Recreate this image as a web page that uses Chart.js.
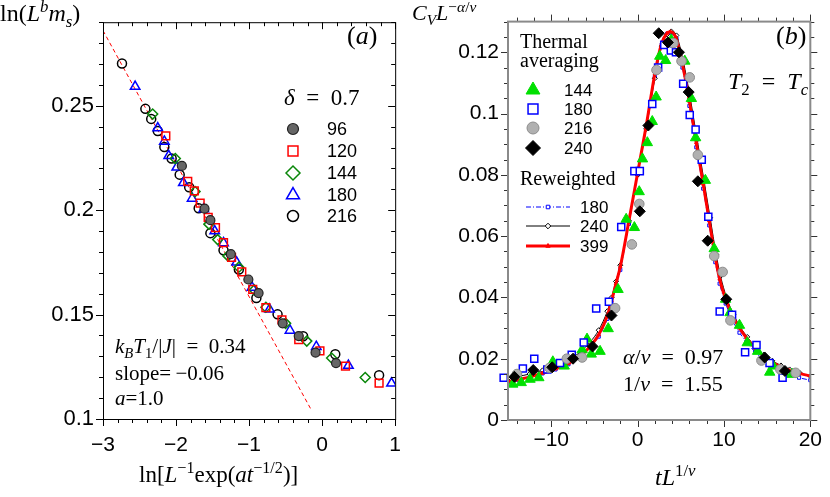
<!DOCTYPE html>
<html>
<head>
<meta charset="utf-8">
<script src="https://cdn.jsdelivr.net/npm/chart.js@4.4.1/dist/chart.umd.min.js"></script>
<style>
body { margin: 0; background: #fff; width: 830px; height: 497px; position: relative; overflow: hidden; }
.pane { position: absolute; top: 0; width: 415px; height: 497px; }
.t { position: absolute; font-family: "Liberation Serif", serif; color: #000; white-space: nowrap; line-height: 1; }
.t i { font-style: italic; }
.t sup, .t sub { font-size: 70%; line-height: 0; }
</style>
</head>
<body>
<div class="pane" style="left:0"><canvas id="chartA" width="415" height="497"></canvas></div>
<div class="pane" style="left:415px"><canvas id="chartB" width="415" height="497"></canvas></div>

<!-- panel (a) text -->
<div class="t" style="left:0;top:1px;font-size:24px">ln(<i>L</i><sup><i>b</i></sup><i>m</i><sub><i>s</i></sub>)</div>
<div class="t" style="left:347px;top:23px;font-size:26px">(<i>a</i>)</div>
<div class="t" style="left:284px;top:86px;font-size:23px"><i>δ</i>&ensp;=&ensp;0.7</div>
<div class="t" style="left:115px;top:336px;font-size:21px"><i>k</i><sub><i>B</i></sub><i>T</i><sub>1</sub>/|<i>J</i>|&ensp;=&ensp;0.34</div>
<div class="t" style="left:115px;top:363px;font-size:21px">slope=&thinsp;−0.06</div>
<div class="t" style="left:115px;top:388px;font-size:21px"><i>a</i>=1.0</div>
<div class="t" style="left:139px;top:463px;font-size:23px">ln[<i>L</i><sup>−1</sup>exp(<i>at</i><sup>−1/2</sup>)]</div>

<!-- panel (b) text -->
<div class="t" style="left:412px;top:2px;font-size:22px"><i>C</i><sub><i>V</i></sub><i>L</i><sup>−<i>α</i>/<i>ν</i></sup></div>
<div class="t" style="left:776px;top:23px;font-size:26px">(<i>b</i>)</div>
<div class="t" style="left:728px;top:69px;font-size:24px"><i>T</i><sub>2</sub>&ensp;=&ensp;<i>T</i><sub><i>c</i></sub></div>
<div class="t" style="left:623px;top:346px;font-size:22px"><i>α</i>/<i>ν</i>&ensp;=&ensp;0.97</div>
<div class="t" style="left:623px;top:373px;font-size:22px">1/<i>ν</i>&ensp;=&ensp;1.55</div>
<div class="t" style="left:655px;top:465px;font-size:24px"><i>tL</i><sup>1/<i>ν</i></sup></div>

<script>
// ---- panel (a): delta = 0.7, kB T1/|J| = 0.34 ----
const ticksAx = [-3, -2, -1, 0, 1];
const ticksAy = [0.1, 0.15, 0.2, 0.25];

const xA96 = [-1.92, -1.61, -1.53, -1.25, -1.01, -0.87, -0.54, -0.32, -0.09, 0.19];
const yA96 = [0.2212, 0.2007, 0.1952, 0.1789, 0.1668, 0.1603, 0.1458, 0.1397, 0.1318, 0.1268];

const xA120 = [-2.14, -1.84, -1.75, -1.67, -1.56, -1.46, -1.35, -1.24, -1.10, -0.95, -0.77, -0.55, -0.32, -0.03, 0.32, 0.78];
const yA120 = [0.2356, 0.2138, 0.2092, 0.2034, 0.1965, 0.1916, 0.1845, 0.1774, 0.1704, 0.1621, 0.1533, 0.1475, 0.1380, 0.1326, 0.1253, 0.1172];

const xA144 = [-2.32, -2.01, -1.74, -1.55, -1.43, -1.29, -1.14, -0.93, -0.77, -0.50, -0.21, 0.13, 0.59];
const yA144 = [0.2460, 0.2247, 0.2089, 0.1933, 0.1859, 0.1781, 0.1727, 0.1618, 0.1535, 0.1458, 0.1373, 0.1292, 0.1199];

const xA180 = [-2.56, -2.25, -2.16, -2.10, -1.99, -1.90, -1.78, -1.62, -1.47, -1.35, -1.17, -0.96, -0.72, -0.44, -0.08, 0.36, 0.95];
const yA180 = [0.2592, 0.2393, 0.2329, 0.2260, 0.2205, 0.2131, 0.2056, 0.2005, 0.1900, 0.1843, 0.1750, 0.1630, 0.1525, 0.1424, 0.1346, 0.1256, 0.1171];

const xA216 = [-2.74, -2.42, -2.34, -2.25, -2.16, -2.06, -1.95, -1.82, -1.69, -1.53, -1.35, -1.14, -0.90, -0.61, -0.26, 0.18, 0.78];
const yA216 = [0.2702, 0.2485, 0.2437, 0.2379, 0.2302, 0.2247, 0.2170, 0.2110, 0.2009, 0.1890, 0.1808, 0.1716, 0.1579, 0.1501, 0.1396, 0.1310, 0.1210];

// dashed fit, slope -0.06
const xFit = [-3, -0.16];
const yFit = [0.2860, 0.1051];

// ---- panel (b): T2 = Tc ----
const ticksBx = [-10, 0, 10, 20];
const ticksBy = [0, 0.02, 0.04, 0.06, 0.08, 0.1, 0.12];

// thermal averaging
const xB144 = [-14.45, -13.47, -12.45, -11.43, -9.81, -8.49, -6.42, -5.85, -5.36, -4.34, -3.4, -2.26, -1.32, -0.37, 0.19, 0.57, 1.13, 1.7, 2.15, 2.57, 3.25, 3.9, 5.47, 6.23, 6.72, 7.85, 8.87, 10.19, 10.7, 11.8, 12.7, 13.9, 15.3, 15.7, 17.0, 17.9];
const yB144 = [0.0117, 0.0122, 0.0133, 0.0138, 0.0190, 0.0176, 0.0229, 0.0264, 0.0215, 0.0224, 0.0298, 0.0426, 0.0655, 0.0628, 0.0745, 0.0852, 0.0905, 0.0974, 0.1054, 0.1187, 0.1173, 0.1240, 0.1171, 0.1049, 0.0921, 0.0782, 0.0559, 0.0394, 0.0350, 0.0309, 0.0252, 0.0224, 0.0156, 0.0176, 0.0150, 0.0149];

const xB180 = [-15.5, -13.28, -11.96, -10.45, -8.98, -7.62, -6.23, -4.79, -3.32, -1.89, -0.37, 0.26, 1.7, 2.38, 3.09, 3.85, 4.45, 5.28, 6.04, 6.72, 7.43, 8.19, 9.51, 10.94, 12.45, 13.77, 15.28, 16.79];
const yB180 = [0.0138, 0.0168, 0.0200, 0.0165, 0.0186, 0.0213, 0.0253, 0.0364, 0.0386, 0.0630, 0.0812, 0.0812, 0.1031, 0.1150, 0.1224, 0.1206, 0.1200, 0.1097, 0.0995, 0.0948, 0.0849, 0.0663, 0.0354, 0.0343, 0.0221, 0.0245, 0.0186, 0.0138];

const xB216 = [-13.96, -10.19, -8.19, -6.42, -2.6, -0.66, 0.2, 2.19, 4.15, 5.09, 6.04, 6.98, 8.87, 9.85, 10.75, 14.34, 16.53, 18.3];
const yB216 = [0.0150, 0.0170, 0.0200, 0.0204, 0.0365, 0.0573, 0.0705, 0.1142, 0.1230, 0.1171, 0.1118, 0.0865, 0.0535, 0.0483, 0.0325, 0.0194, 0.0165, 0.0154];

const xB240 = [-14.26, -12.08, -9.88, -7.47, -5.21, -3.02, 0.26, 1.25, 2.45, 3.51, 4.79, 5.92, 6.98, 8.12, 10.27, 14.72, 17.06];
const yB240 = [0.0141, 0.0163, 0.0172, 0.0200, 0.0240, 0.0341, 0.0681, 0.0961, 0.1262, 0.1232, 0.1200, 0.1070, 0.0779, 0.0585, 0.0394, 0.0204, 0.0160];

// reweighted curves
const xRw180 = [-15, -14, -12.5, -11, -9.5, -8, -6.5, -5.5, -4.5, -3.5, -3, -2.5, -2, -1, 0, 1, 2, 2.8, 3.4, 3.9, 4.5, 5.2, 6, 6.8, 7.6, 8.3, 9, 9.5, 10.2, 11, 11.8, 12.6, 13.6, 14.5, 15.5, 16.5, 17.5, 18.7, 20];
const yRw180 = [0.0124, 0.0131, 0.0140, 0.0152, 0.0165, 0.0182, 0.0208, 0.0236, 0.0272, 0.0330, 0.0378, 0.0432, 0.0490, 0.0640, 0.0800, 0.0955, 0.1120, 0.1225, 0.1260, 0.1262, 0.1245, 0.1150, 0.1025, 0.0890, 0.0755, 0.0635, 0.0515, 0.0445, 0.0380, 0.0325, 0.0285, 0.0255, 0.0222, 0.0198, 0.0178, 0.0163, 0.0150, 0.0138, 0.0130];

const xRw240 = [-15, -14, -12.5, -11, -9.5, -8, -6.5, -5.5, -4.5, -3.5, -3, -2.5, -2, -1, 0, 1, 2, 2.8, 3.4, 3.9, 4.5, 5.3, 6.1, 6.9, 7.7, 8.4, 9.1, 9.6, 10.3, 11.1, 11.9, 12.7, 13.7, 14.6, 15.6, 16.6, 17.6, 18.8, 20];
const yRw240 = [0.0135, 0.0141, 0.0150, 0.0162, 0.0177, 0.0196, 0.0225, 0.0254, 0.0293, 0.0355, 0.0400, 0.0452, 0.0505, 0.0650, 0.0800, 0.0950, 0.1115, 0.1220, 0.1258, 0.1268, 0.1255, 0.1170, 0.1050, 0.0915, 0.0780, 0.0660, 0.0540, 0.0470, 0.0400, 0.0345, 0.0303, 0.0271, 0.0237, 0.0213, 0.0193, 0.0178, 0.0165, 0.0153, 0.0143];

const xRw399 = [-15, -14, -12.5, -11, -9.5, -8, -6.5, -5.5, -4.5, -3.5, -3, -2.5, -2, -1, 0, 1, 2, 2.8, 3.4, 3.8, 4.4, 5.2, 6, 6.8, 7.6, 8.3, 9, 9.5, 10.2, 11, 11.8, 12.6, 13.6, 14.5, 15.5, 16.5, 17.5, 18.7, 20];
const yRw399 = [0.0125, 0.0131, 0.0140, 0.0153, 0.0167, 0.0185, 0.0212, 0.0240, 0.0278, 0.0340, 0.0390, 0.0445, 0.0500, 0.0650, 0.0805, 0.0960, 0.1130, 0.1230, 0.1262, 0.1267, 0.1250, 0.1160, 0.1040, 0.0905, 0.0770, 0.0650, 0.0530, 0.0460, 0.0394, 0.0340, 0.0300, 0.0268, 0.0234, 0.0210, 0.0190, 0.0175, 0.0163, 0.0152, 0.0144];

const pts = (xs, ys) => xs.map((x, i) => ({ x: x, y: ys[i] }));
const isMult = (v, s) => Math.abs(v / s - Math.round(v / s)) < 1e-6;
const minus = v => String(v).replace('-', '\u2212');
const fixTicks = vals => (s) => { s.ticks = vals.map(v => ({ value: v })); };

// frame + major/minor tick marks on all four sides (dir 1 = outward, -1 = inward)
const frameTicks = {
    id: 'frameTicks',
    afterDraw(chart, args, o) {
        const ctx = chart.ctx, a = chart.chartArea;
        const sx = chart.scales.x, sy = chart.scales.y;
        ctx.save();
        ctx.strokeStyle = o.tickColor;
        ctx.lineWidth = 1;
        ctx.beginPath();
        const x0 = Math.ceil(sx.min / o.xMinor - 1e-6);
        const x1 = Math.floor(sx.max / o.xMinor + 1e-6);
        for (let k = x0; k <= x1; k++) {
            const v = k * o.xMinor;
            const p = Math.round(sx.getPixelForValue(v)) + 0.5;
            const len = isMult(v, o.xMajor) ? o.major : o.minor;
            ctx.moveTo(p, a.bottom); ctx.lineTo(p, a.bottom + o.sides.bottom * len);
            ctx.moveTo(p, a.top); ctx.lineTo(p, a.top - o.sides.top * len);
        }
        const y0 = Math.ceil(sy.min / o.yMinor - 1e-6);
        const y1 = Math.floor(sy.max / o.yMinor + 1e-6);
        for (let k = y0; k <= y1; k++) {
            const v = k * o.yMinor;
            const p = Math.round(sy.getPixelForValue(v)) + 0.5;
            const len = isMult(v, o.yMajor) ? o.major : o.minor;
            ctx.moveTo(a.left, p); ctx.lineTo(a.left - o.sides.left * len, p);
            ctx.moveTo(a.right, p); ctx.lineTo(a.right + o.sides.right * len, p);
        }
        ctx.stroke();
        ctx.strokeStyle = o.color;
        ctx.lineWidth = o.width;
        const off = o.width % 2 ? 0.5 : 0;
        ctx.strokeRect(a.left + off, a.top + off, a.right - a.left, a.bottom - a.top);
        ctx.restore();
    }
};

// legend drawn inside the plot from the datasets' own styles
const markerKey = {
    id: 'markerKey',
    afterDatasetsDraw(chart, args, o) {
        const ctx = chart.ctx, sets = chart.data.datasets;
        ctx.save();
        ctx.fillStyle = '#000';
        ctx.textBaseline = 'alphabetic';
        (o.headers || []).forEach(h => {
            ctx.font = o.headerFont;
            ctx.fillText(h.text, h.x, h.y);
        });
        o.items.forEach(it => {
            const ds = sets[it.index];
            if (it.half) {
                ctx.strokeStyle = ds.borderColor;
                ctx.lineWidth = ds.borderWidth;
                ctx.setLineDash(ds.borderDash || []);
                ctx.beginPath();
                ctx.moveTo(it.x - it.half, it.y);
                ctx.lineTo(it.x + it.half, it.y);
                ctx.stroke();
                ctx.setLineDash([]);
            }
            ctx.fillStyle = ds.pointBackgroundColor;
            ctx.strokeStyle = ds.pointBorderColor;
            ctx.lineWidth = ds.pointBorderWidth;
            Chart.helpers.drawPoint(ctx, { pointStyle: ds.pointStyle, radius: it.r, rotation: 0, borderWidth: ds.pointBorderWidth }, it.x, it.y);
            ctx.fillStyle = '#000';
            ctx.font = o.font;
            ctx.textBaseline = 'middle';
            ctx.fillText(ds.label, it.tx, it.y + 1);
            ctx.textBaseline = 'alphabetic';
        });
        ctx.restore();
    }
};

const sans = (size) => ({ family: '"Liberation Sans", Arial, sans-serif', size: size });

new Chart('chartA', {
    type: 'scatter',
    data: {
        datasets: [
            { label: '96', data: pts(xA96, yA96), pointStyle: 'circle', pointRadius: 4.5,
              pointBackgroundColor: '#666666', pointBorderColor: '#222222', pointBorderWidth: 1.2 },
            { label: '120', data: pts(xA120, yA120), pointStyle: 'rect', pointRadius: 5.5,
              pointBackgroundColor: 'rgba(0,0,0,0)', pointBorderColor: '#ff0000', pointBorderWidth: 1.5 },
            { label: '144', data: pts(xA144, yA144), pointStyle: 'rectRot', pointRadius: 5,
              pointBackgroundColor: 'rgba(0,0,0,0)', pointBorderColor: '#0a870a', pointBorderWidth: 1.5 },
            { label: '180', data: pts(xA180, yA180), pointStyle: 'triangle', pointRadius: 5.5,
              pointBackgroundColor: 'rgba(0,0,0,0)', pointBorderColor: '#0000ff', pointBorderWidth: 1.5 },
            { label: '216', data: pts(xA216, yA216), pointStyle: 'circle', pointRadius: 4.5,
              pointBackgroundColor: 'rgba(0,0,0,0)', pointBorderColor: '#000000', pointBorderWidth: 1.5 },
            { label: 'fit', data: pts(xFit, yFit), showLine: true, borderColor: '#ff0000', borderWidth: 1,
              borderDash: [4, 3], pointRadius: 0, order: 10 }
        ]
    },
    options: {
        responsive: false,
        animation: false,
        events: [],
        layout: { padding: { top: 12, right: 16, bottom: 0, left: 0 } },
        plugins: {
            legend: { display: false },
            tooltip: { enabled: false },
            frameTicks: { color: '#000', width: 1, tickColor: '#000', xMajor: 1, xMinor: 0.2, yMajor: 0.05, yMinor: 0.01,
                          major: 7, minor: 4, sides: { bottom: 1, top: -1, left: 1, right: -1 } },
            markerKey: {
                font: '18px "Liberation Sans", Arial, sans-serif',
                items: [
                    { index: 0, x: 293, y: 129, r: 5.5, tx: 327 },
                    { index: 1, x: 293, y: 151, r: 7, tx: 327 },
                    { index: 2, x: 293, y: 173, r: 7, tx: 327 },
                    { index: 3, x: 293, y: 195, r: 7.5, tx: 327 },
                    { index: 4, x: 293, y: 216, r: 5.5, tx: 327 }
                ]
            }
        },
        scales: {
            x: {
                type: 'linear', min: -3, max: 1,
                grid: { display: false, drawTicks: false }, border: { display: false },
                ticks: { autoSkip: false, padding: 14, color: '#000', font: sans(21), callback: v => minus(v) },
                afterBuildTicks: fixTicks(ticksAx),
                afterFit(s) { s.height = 78; }
            },
            y: {
                type: 'linear', min: 0.1, max: 0.29,
                grid: { display: false, drawTicks: false }, border: { display: false },
                ticks: { autoSkip: false, padding: 9, color: '#000', font: sans(22), callback: v => String(+v.toFixed(2)) },
                afterBuildTicks: fixTicks(ticksAy),
                afterFit(s) { s.width = 103; }
            }
        }
    },
    plugins: [frameTicks, markerKey]
});

new Chart('chartB', {
    type: 'scatter',
    data: {
        datasets: [
            { label: '144', data: pts(xB144, yB144), pointStyle: 'triangle', pointRadius: 6, clip: false,
              pointBackgroundColor: '#00e000', pointBorderColor: '#00e000', pointBorderWidth: 1, order: 4 },
            { label: '180', data: pts(xB180, yB180), pointStyle: 'rect', pointRadius: 5, clip: false,
              pointBackgroundColor: '#ffffff', pointBorderColor: '#0000ff', pointBorderWidth: 1.5, order: 3 },
            { label: '216', data: pts(xB216, yB216), pointStyle: 'circle', pointRadius: 4.8, clip: false,
              pointBackgroundColor: '#b0b0b0', pointBorderColor: '#8c8c8c', pointBorderWidth: 1, order: 2 },
            { label: '240', data: pts(xB240, yB240), pointStyle: 'rectRot', pointRadius: 5.5, clip: false,
              pointBackgroundColor: '#000000', pointBorderColor: '#000000', pointBorderWidth: 1, order: 1 },
            { label: '180', data: pts(xRw180, yRw180), showLine: true, borderColor: '#0000ff', borderWidth: 1,
              borderDash: [5, 2, 1, 2], cubicInterpolationMode: 'monotone', pointStyle: 'rect', pointRadius: 2.2,
              pointBackgroundColor: '#ffffff', pointBorderColor: '#0000ff', pointBorderWidth: 1, order: 8 },
            { label: '240', data: pts(xRw240, yRw240), showLine: true, borderColor: '#000000', borderWidth: 1,
              cubicInterpolationMode: 'monotone', pointStyle: 'rectRot', pointRadius: 2.5,
              pointBackgroundColor: '#ffffff', pointBorderColor: '#000000', pointBorderWidth: 1, order: 7 },
            { label: '399', data: pts(xRw399, yRw399), showLine: true, borderColor: '#ff0000', borderWidth: 3,
              cubicInterpolationMode: 'monotone', pointStyle: 'triangle', pointRadius: 2,
              pointBackgroundColor: '#ff0000', pointBorderColor: '#ff0000', pointBorderWidth: 1, order: 6 }
        ]
    },
    options: {
        responsive: false,
        animation: false,
        events: [],
        layout: { padding: { top: 12, right: 13, bottom: 0, left: 0 } },
        plugins: {
            legend: { display: false },
            tooltip: { enabled: false },
            frameTicks: { color: '#8a8a8a', width: 2, tickColor: '#333', xMajor: 10, xMinor: 2, yMajor: 0.02, yMinor: 0.005,
                          major: 7, minor: 4, sides: { bottom: 1, top: 1, left: 1, right: 1 } },
            markerKey: {
                font: '17px "Liberation Sans", Arial, sans-serif',
                headerFont: '20px "Liberation Serif", serif',
                headers: [
                    { text: 'Thermal', x: 105, y: 48 },
                    { text: 'averaging', x: 105, y: 67 },
                    { text: 'Reweighted', x: 105, y: 185 }
                ],
                items: [
                    { index: 0, x: 118, y: 90, r: 8, tx: 149 },
                    { index: 1, x: 118, y: 109, r: 7, tx: 149 },
                    { index: 2, x: 118, y: 128, r: 6, tx: 149 },
                    { index: 3, x: 118, y: 148, r: 7.5, tx: 149 },
                    { index: 4, x: 133, y: 207, r: 2.5, tx: 165, half: 22 },
                    { index: 5, x: 133, y: 226, r: 2.8, tx: 165, half: 22 },
                    { index: 6, x: 133, y: 246, r: 2.5, tx: 165, half: 22 }
                ]
            }
        },
        scales: {
            x: {
                type: 'linear', min: -15, max: 20,
                grid: { display: false, drawTicks: false }, border: { display: false },
                ticks: { autoSkip: false, padding: 8, color: '#000', font: sans(21), callback: v => minus(v) },
                afterBuildTicks: fixTicks(ticksBx),
                afterFit(s) { s.height = 77; }
            },
            y: {
                type: 'linear', min: 0, max: 0.13,
                grid: { display: false, drawTicks: false }, border: { display: false },
                ticks: { autoSkip: false, padding: 9, color: '#000', font: sans(21), callback: v => String(+v.toFixed(2)) },
                afterBuildTicks: fixTicks(ticksBy),
                afterFit(s) { s.width = 93; }
            }
        }
    },
    plugins: [frameTicks, markerKey]
});
</script>
</body>
</html>
